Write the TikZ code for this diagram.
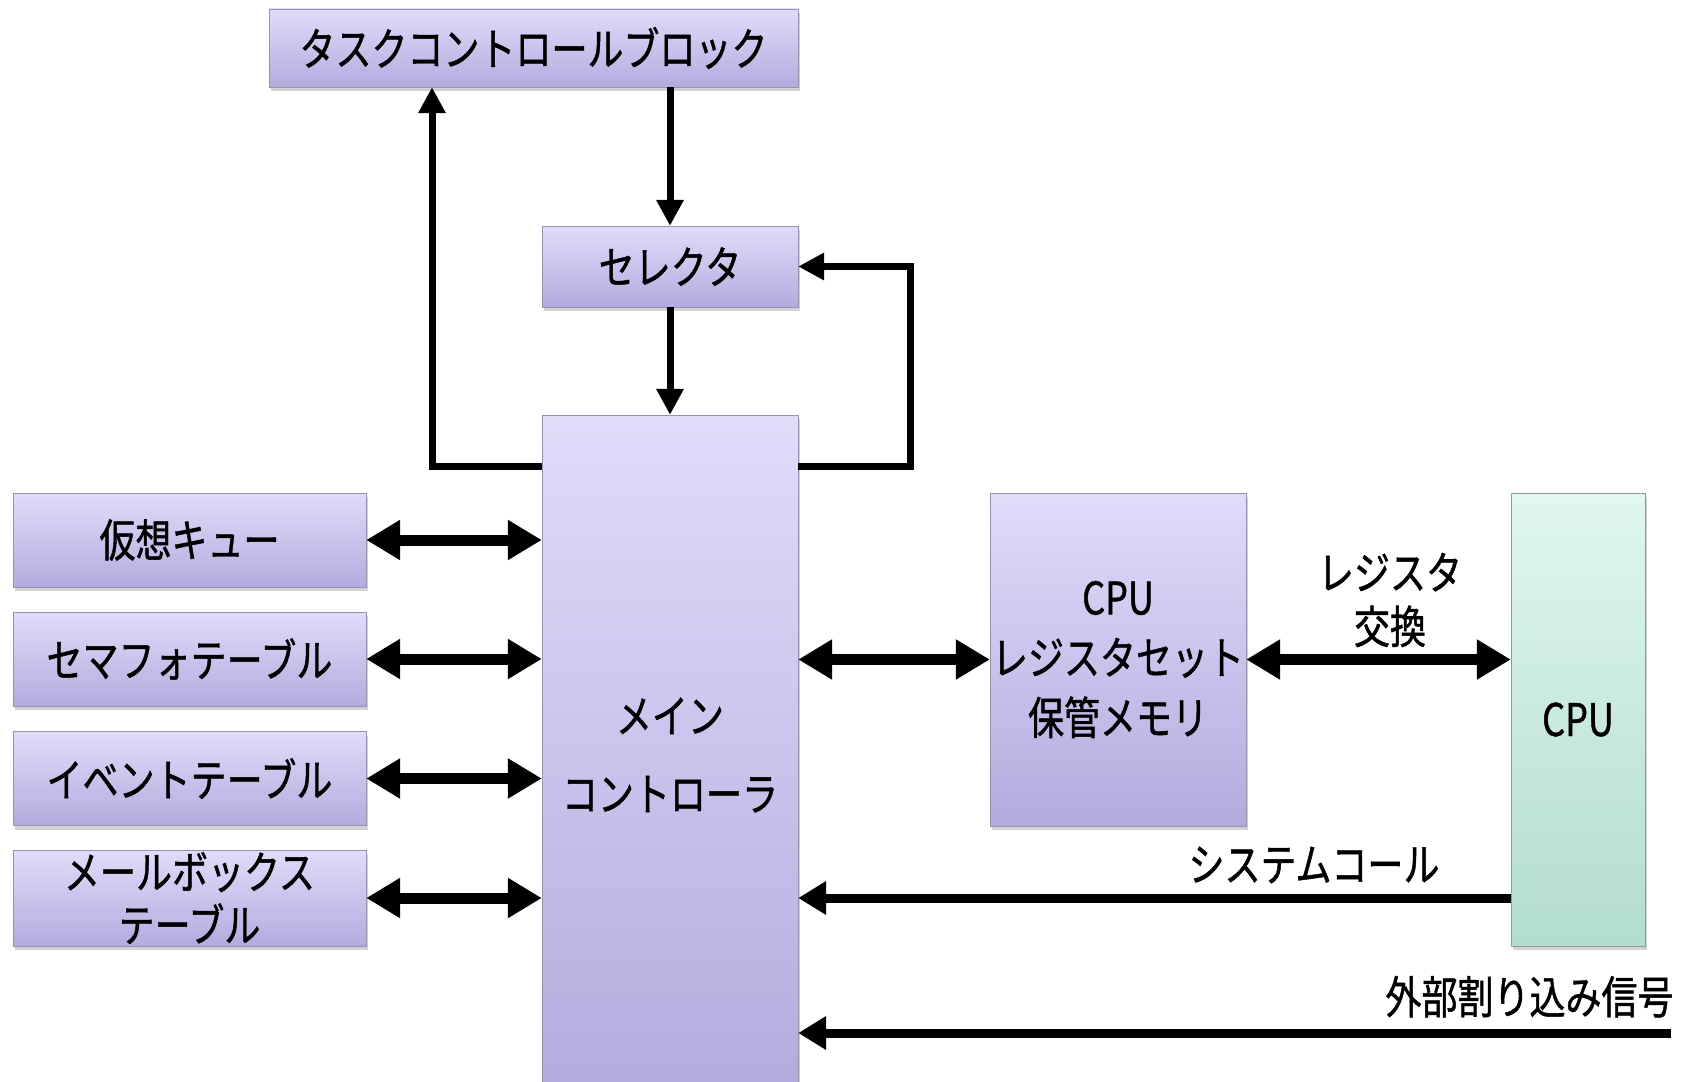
\documentclass[tikz,border=0pt]{standalone}
\usepackage{fontspec}
\newfontfamily\jpfont[FakeStretch=0.8, FakeBold=1]{Noto Sans CJK JP}
\usepackage{tikz}
\usetikzlibrary{arrows.meta, positioning, shadows}
\definecolor{boxtop}{RGB}{224, 220, 250}
\definecolor{boxbottom}{RGB}{178, 172, 222}
\definecolor{cputop}{RGB}{224, 247, 238}
\definecolor{cpubottom}{RGB}{178, 221, 204}
\definecolor{boxline}{RGB}{150, 148, 170}

\begin{document}
\begin{tikzpicture}[
    x=1pt, y=-1pt,
    font=\jpfont\fontsize{45}{50}\selectfont,
    every node/.style={align=center},
    block/.style={rectangle, draw=boxline, thin, top color=boxtop, bottom color=boxbottom,
                  drop shadow={shadow xshift=2pt, shadow yshift=-4pt, opacity=0.35},
                  inner sep=0pt},
    cpublock/.style={block, top color=cputop, bottom color=cpubottom},
    flow/.style={line width=7pt, -{Triangle[length=26pt, width=26pt]}},
    sig/.style={line width=9pt, -{Triangle[length=28pt, width=32pt]}},
    link/.style={line width=11pt, {Triangle[length=34pt, width=38pt]}-{Triangle[length=34pt, width=38pt]}}
]
    \useasboundingbox[fill=white] (0,0) rectangle (1696,1081);

    % control path
    \node[block, minimum width=529pt, minimum height=78pt] (tcb) at (533.5,48) {タスクコントロールブロック};
    \node[block, minimum width=256pt, minimum height=81pt] (selector) at (670,266.5) {セレクタ};
    \node[block, minimum width=256pt, minimum height=680pt] (main) at (670,755) {メイン\\[28pt]コントローラ};

    % tables
    \node[block, minimum width=353pt, minimum height=94pt] (vqueue) at (189.5,540) {仮想キュー};
    \node[block, minimum width=353pt, minimum height=94pt] (semaphore) at (189.5,659) {セマフォテーブル};
    \node[block, minimum width=353pt, minimum height=94pt] (event) at (189.5,778.5) {イベントテーブル};
    \node[block, minimum width=353pt, minimum height=96pt] (mailbox) at (189.5,898) {メールボックス\\[3pt]テーブル};

    % register store and cpu
    \node[block, minimum width=256pt, minimum height=333pt] (regstore) at (1118,659.5) {CPU\\[10pt]レジスタセット\\[10pt]保管メモリ};
    \node[cpublock, minimum width=134pt, minimum height=453pt] (cpu) at (1578,719.5) {CPU};

    \draw[flow] (selector.north |- tcb.south) -- (selector.north);
    \draw[flow] (selector.south) -- (main.north);
    \draw[flow] ([yshift=-52pt]main.north west) -| ([xshift=-101.5pt]tcb.south);
    \draw[flow] ([yshift=-52pt]main.north east) -- ++(112,0) |- (selector.east);

    \foreach \t in {vqueue, semaphore, event, mailbox}
        \draw[link] (\t.east) -- (\t.east -| main.west);

    \draw[link] (regstore.west -| main.east) -- (regstore.west);
    \draw[link] (regstore.east) -- (regstore.east -| cpu.west);
    \node (swap) at (1390,600) {レジスタ\\[4pt]交換};

    \draw[sig] (mailbox -| cpu.west) -- (mailbox -| main.east);
    \node (syscall) at (1314,865) {システムコール};

    \coordinate (ext) at (1671,1033);
    \draw[sig] (ext) -- (ext -| main.east);
    \node[anchor=south east] (extlabel) at ([xshift=6pt, yshift=12pt]ext) {外部割り込み信号};
\end{tikzpicture}
\end{document}
